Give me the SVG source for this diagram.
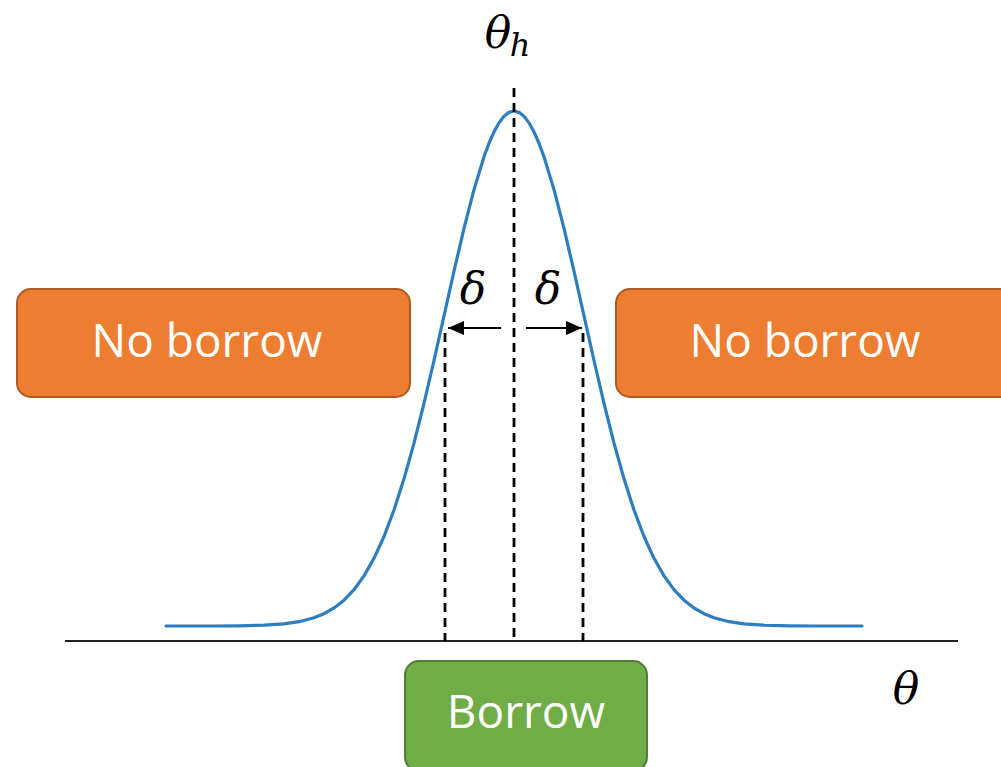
<svg xmlns="http://www.w3.org/2000/svg" width="1001" height="767" viewBox="0 0 1001 767">
<style>
.box-text{font-family:"Open Sans","Liberation Sans",sans-serif;font-size:46px;fill:#ffffff;text-anchor:middle}
.math{font-family:"DejaVu Serif","Liberation Serif",serif;font-style:italic;fill:#000000}
.dash{stroke:#000000;stroke-width:2.8;stroke-dasharray:9 6;fill:none}
.orange{fill:#ED7D31;stroke:#AE5A21;stroke-width:2}
.green{fill:#70AD47;stroke:#507E32;stroke-width:2}
</style>
<defs>
<marker id="arrow" viewBox="0 0 16 14" refX="16" refY="7" markerWidth="16" markerHeight="14" markerUnits="userSpaceOnUse" orient="auto">
<path d="M0,0 L16,7 L0,14 Z" fill="#000000"/>
</marker>
</defs>
<rect width="1001" height="767" fill="#ffffff"/>
<g id="axis">
<line x1="65" y1="641" x2="958" y2="641" stroke="#222222" stroke-width="2"/>
</g>
<g id="curve">
<polyline fill="none" stroke="#2E7DBE" stroke-width="3.2" stroke-linejoin="round" stroke-linecap="round" points="166,626 214,626 239,625.8 264,625.2 284,623.85 299,621.7 314,617.81 324,613.73 334,608.01 344,600.14 354,589.62 364,575.86 374,558.3 384,536.46 394,510.02 404,478.83 414,443.09 424,403.34 434,360.5 444,315.89 454,271.23 464,228.42 474,189.61 484,156.81 489,143.26 494,131.89 499,122.85 504,116.3 509,112.33 514,111 519,112.33 524,116.3 529,122.85 534,131.89 539,143.26 544,156.81 554,189.61 564,228.42 574,271.23 584,315.89 594,360.5 604,403.34 614,443.09 624,478.83 634,510.02 644,536.46 654,558.3 664,575.86 674,589.62 684,600.14 694,608.01 704,613.73 714,617.81 729,621.7 744,623.85 764,625.2 789,625.8 814,626 862,626"/>
</g>
<g id="connectors">
<line class="dash" x1="514" y1="88" x2="514" y2="641"/>
<line class="dash" x1="445" y1="333" x2="445" y2="641"/>
<line class="dash" x1="583" y1="333" x2="583" y2="641"/>
<line x1="501" y1="328" x2="448" y2="328" stroke="#000000" stroke-width="1.8" marker-end="url(#arrow)"/>
<line x1="526" y1="328" x2="582" y2="328" stroke="#000000" stroke-width="1.8" marker-end="url(#arrow)"/>
</g>
<g id="labels">
<text class="math" x="498" y="48" font-size="44" text-anchor="middle">θ</text>
<text class="math" x="520" y="56" font-size="32" text-anchor="middle">h</text>
<text class="math" x="473" y="304" font-size="44" text-anchor="middle">δ</text>
<text class="math" x="548" y="304" font-size="44" text-anchor="middle">δ</text>
<text class="math" x="906" y="704" font-size="44" text-anchor="middle">θ</text>
</g>
<g id="no-borrow-left">
<rect class="orange" x="17" y="289" width="393" height="108" rx="14" ry="14"/>
<text class="box-text" x="207" y="357">No borrow</text>
</g>
<g id="no-borrow-right">
<rect class="orange" x="616" y="289" width="400" height="108" rx="14" ry="14"/>
<text class="box-text" x="805" y="357">No borrow</text>
</g>
<g id="borrow">
<rect class="green" x="405" y="661" width="242" height="110" rx="14" ry="14"/>
<text class="box-text" x="526" y="728">Borrow</text>
</g>
</svg>
